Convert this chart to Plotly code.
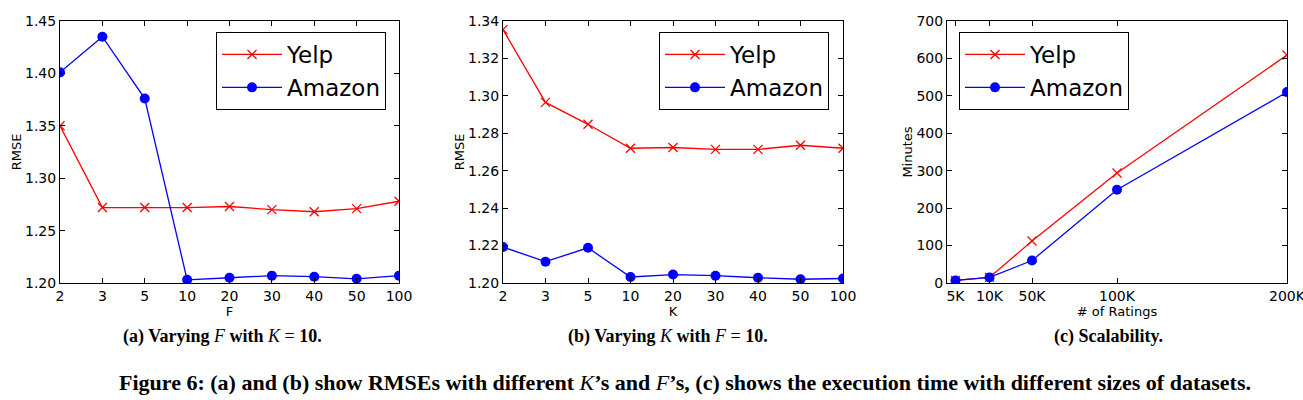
import plotly.graph_objects as go

# ---- data ----
f_labels = ["2", "3", "5", "10", "20", "30", "40", "50", "100"]
yelp_f = [1.350, 1.272, 1.272, 1.272, 1.273, 1.270, 1.268, 1.271, 1.278]
amazon_f = [1.401, 1.435, 1.376, 1.203, 1.205, 1.207, 1.206, 1.204, 1.207]

k_labels = ["2", "3", "5", "10", "20", "30", "40", "50", "100"]
yelp_k = [1.3354, 1.2965, 1.2848, 1.2720, 1.2724, 1.2714, 1.2714, 1.2736, 1.2720]
amazon_k = [1.2192, 1.2114, 1.2188, 1.2032, 1.2045, 1.2039, 1.2028, 1.2020, 1.2024]

ratings_pos = [5, 25, 50, 100, 200]
ratings_labels = ["5K", "10K", "50K", "100K", "200K"]
yelp_min = [7, 15, 112, 294, 609]
amazon_min = [7, 15, 60, 249, 510]

W, H = 1303, 400
RED = "#ff0000"
BLUE = "#0000ff"
FONT = "DejaVu Sans"

fig = go.Figure()

def add_pair(x, y_yelp, y_amz, xa, ya, leg):
    fig.add_trace(go.Scatter(
        x=x, y=y_yelp, name="Yelp", mode="lines+markers",
        line=dict(color=RED, width=1.3),
        marker=dict(symbol="x-thin", size=9, line=dict(color=RED, width=1.3)),
        xaxis=xa, yaxis=ya, legend=leg))
    fig.add_trace(go.Scatter(
        x=x, y=y_amz, name="Amazon", mode="lines+markers",
        line=dict(color=BLUE, width=1.3),
        marker=dict(symbol="circle", size=10, color=BLUE),
        xaxis=xa, yaxis=ya, legend=leg))

idx = list(range(len(f_labels)))
add_pair(idx, yelp_f, amazon_f, "x", "y", "legend")
add_pair(list(range(len(k_labels))), yelp_k, amazon_k, "x2", "y2", "legend2")
add_pair(ratings_pos, yelp_min, amazon_min, "x3", "y3", "legend3")

ydom = [1 - 283 / H, 1 - 21 / H]
doms = [(60, 399), (503, 843), (947, 1287)]

axis_common = dict(
    showline=True, linecolor="black", linewidth=1, mirror="ticks",
    ticks="inside", ticklen=5, tickcolor="black", showgrid=False,
    zeroline=False, automargin=False, ticklabeloverflow="allow",
    tickfont=dict(family=FONT, size=14, color="black"),
)
ytitle = lambda t: dict(text=t, standoff=0, font=dict(family=FONT, size=13))
xtitle = lambda t: dict(text=t, standoff=2, font=dict(family=FONT, size=13))

fig.update_layout(
    xaxis=dict(domain=[doms[0][0] / W, doms[0][1] / W], range=[0, 8],
               tickvals=idx, ticktext=f_labels, title=xtitle("F"), **axis_common),
    yaxis=dict(domain=ydom, range=[1.20, 1.45], tickvals=[1.20, 1.25, 1.30, 1.35, 1.40, 1.45],
               ticktext=["1.20", "1.25", "1.30", "1.35", "1.40", "1.45"],
               title=ytitle("RMSE"), **axis_common),
    xaxis2=dict(domain=[doms[1][0] / W, doms[1][1] / W], range=[0, 8], anchor="y2",
                tickvals=idx, ticktext=k_labels, title=xtitle("K"), **axis_common),
    yaxis2=dict(domain=ydom, range=[1.20, 1.34], anchor="x2",
                tickvals=[1.20, 1.22, 1.24, 1.26, 1.28, 1.30, 1.32, 1.34],
                ticktext=["1.20", "1.22", "1.24", "1.26", "1.28", "1.30", "1.32", "1.34"],
                title=ytitle("RMSE"), **axis_common),
    xaxis3=dict(domain=[doms[2][0] / W, doms[2][1] / W], range=[0, 200], anchor="y3",
                tickvals=ratings_pos, ticktext=ratings_labels,
                title=xtitle("# of Ratings"), **axis_common),
    yaxis3=dict(domain=ydom, range=[0, 700], anchor="x3", dtick=100,
                title=ytitle("Minutes"), **axis_common),
    width=W, height=H, margin=dict(l=0, r=0, t=0, b=0, autoexpand=False),
    plot_bgcolor="white", paper_bgcolor="white",
    font=dict(family=FONT, color="black"),
)

legend_common = dict(
    bordercolor="black", borderwidth=1, bgcolor="white",
    font=dict(family=FONT, size=23, color="black"),
    itemwidth=60, xanchor="left", yanchor="top",
)
fig.update_layout(
    legend=dict(x=216 / W, y=1 - 32 / H, **legend_common),
    legend2=dict(x=659 / W, y=1 - 32 / H, **legend_common),
    legend3=dict(x=959 / W, y=1 - 32 / H, **legend_common),
)

CAP = "Liberation Serif"
captions = [
    ("<b>(a) Varying </b><i>F</i><b> with </b><i>K</i> = <b>10.</b>", 222),
    ("<b>(b) Varying </b><i>K</i><b> with </b><i>F</i> = <b>10.</b>", 668),
    ("<b>(c) Scalability.</b>", 1108),
]
for txt, cx in captions:
    fig.add_annotation(text=txt, x=cx / W, y=1 - 336 / H, xref="paper", yref="paper",
                       showarrow=False, xanchor="center", yanchor="middle",
                       font=dict(family=CAP, size=18, color="black"))
fig.add_annotation(
    text="<b>Figure 6: (a) and (b) show RMSEs with different </b><i>K</i><b>’s and </b><i>F</i>"
         "<b>’s, (c) shows the execution time with different sizes of datasets.</b>",
    x=685 / W, y=1 - 382 / H, xref="paper", yref="paper", showarrow=False,
    xanchor="center", yanchor="middle", font=dict(family=CAP, size=22, color="black"))

fig.write_html("out.html")
